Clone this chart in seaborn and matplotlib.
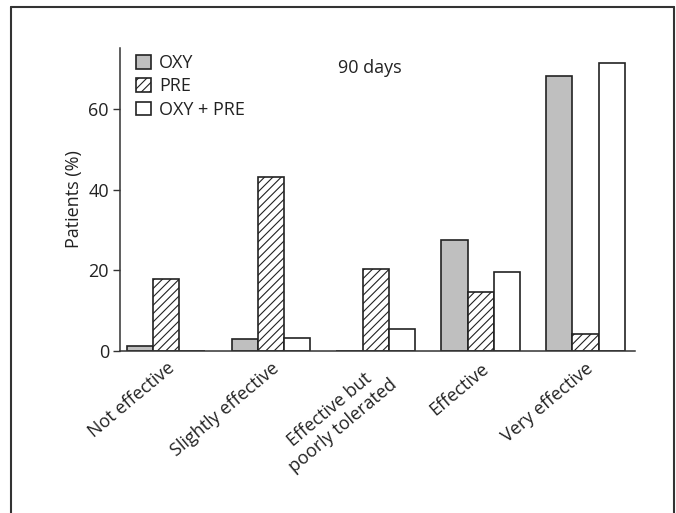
import matplotlib
matplotlib.use('Agg')
import matplotlib.pyplot as plt
from matplotlib.patches import Patch
from matplotlib.lines import Line2D
import seaborn as sns
import pandas as pd

categories = ['Not effective', 'Slightly effective', 'Effective but\npoorly tolerated',
              'Effective', 'Very effective']
groups = ['OXY', 'PRE', 'OXY + PRE']
oxy = [1.3, 2.9, 0.0, 27.6, 68.2]
pre = [17.8, 43.2, 20.4, 14.7, 4.1]
oxy_pre = [0.0, 3.2, 5.5, 19.7, 71.5]

df = pd.DataFrame({
    'effect': categories * 3,
    'group': [g for g in groups for _ in categories],
    'value': oxy + pre + oxy_pre,
})

sns.set_style('white')
plt.rcParams['font.family'] = ['Open Sans', 'DejaVu Sans']
plt.rcParams['hatch.linewidth'] = 0.8

fs = 13
fig = plt.figure(figsize=(6.76, 5.13), dpi=100)
ax = fig.add_axes([0.1775, 0.316, 0.7615, 0.59])

colors = {'OXY': '#bfbfbf', 'PRE': 'white', 'OXY + PRE': 'white'}
sns.barplot(data=df, x='effect', y='value', hue='group', order=categories,
            hue_order=groups, palette=colors, width=0.75, edgecolor='#222222',
            linewidth=1.2, legend=False, ax=ax, saturation=1)

for bar in ax.containers[1]:
    bar.set_hatch('////')

ax.set_ylim(0, 75.2)
ax.set_xlim(-0.44, 4.47)
ax.set_yticks([0, 20, 40, 60])
ax.set_xlabel('')
ax.set_ylabel('Patients (%)', fontsize=fs, color='#222222', labelpad=4)
ax.tick_params(axis='y', labelsize=fs, length=5, width=1, color='#333333',
               labelcolor='#222222', left=True, pad=3)
ax.tick_params(axis='x', labelsize=fs, length=0, labelcolor='#222222', pad=6)
for lab in ax.get_xticklabels():
    lab.set_rotation(40)
    lab.set_ha('right')
    lab.set_rotation_mode('anchor')
    lab.set_multialignment('center')

sns.despine(ax=ax)
for s in ['left', 'bottom']:
    ax.spines[s].set_color('#333333')
    ax.spines[s].set_linewidth(1.1)

handles = [Patch(facecolor='#bfbfbf', edgecolor='#222222', linewidth=1.2, label='OXY'),
           Patch(facecolor='white', edgecolor='#222222', linewidth=1.2, hatch='////', label='PRE'),
           Patch(facecolor='white', edgecolor='#222222', linewidth=1.2, label='OXY + PRE')]
ax.legend(handles=handles, loc='upper left', bbox_to_anchor=(0.0, 1.035), frameon=False,
          fontsize=fs, handlelength=0.8, handleheight=0.8, handletextpad=0.45,
          labelspacing=0.3, labelcolor='#222222')

ax.text(0.485, 0.935, '90 days', transform=ax.transAxes, fontsize=fs,
        color='#222222', ha='center', va='center')

# outer frame
fc = '#333333'
fig.add_artist(Line2D([0.0163, 0.0163], [0, 0.986], color=fc, lw=1.5))
fig.add_artist(Line2D([0.0163, 0.997], [0.986, 0.986], color=fc, lw=1.5))
fig.add_artist(Line2D([0.997, 0.997], [0, 0.986], color=fc, lw=1.5))

fig.savefig('out.png', dpi=100)
